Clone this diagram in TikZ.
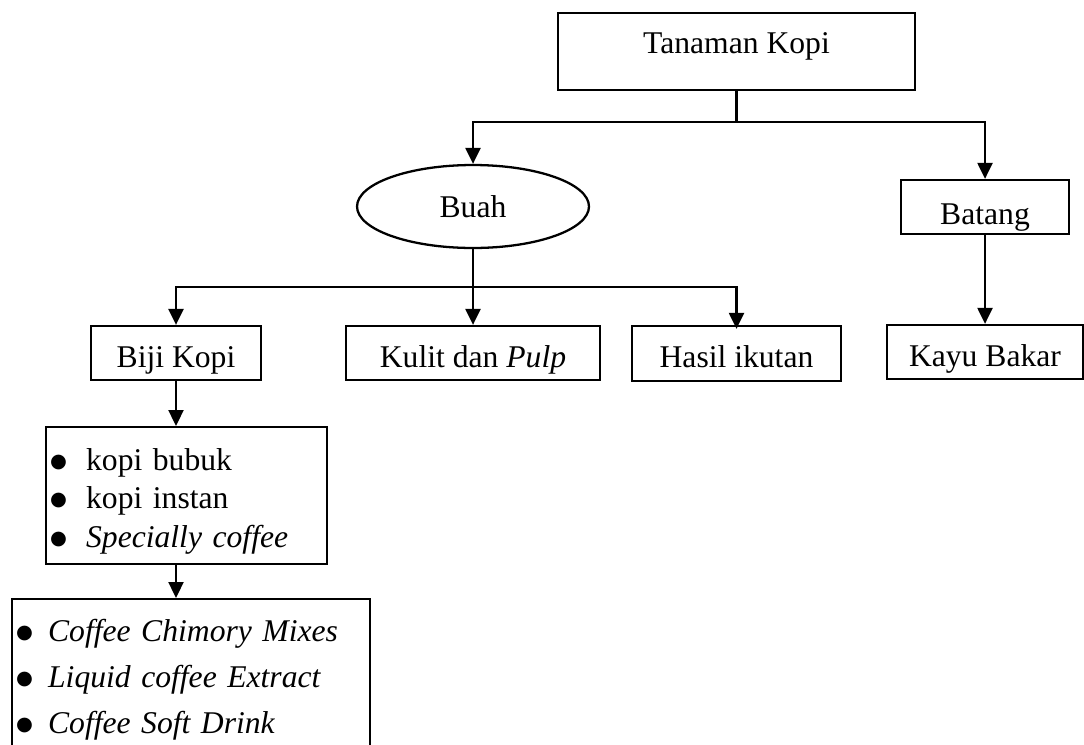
\documentclass[tikz,border=0pt]{standalone}
\usepackage{fontspec}
\setmainfont{Liberation Serif}
\newfontfamily\simbol{DejaVu Sans}
\usepackage{tikz}
\usetikzlibrary{arrows.meta}
\usetikzlibrary{shapes.geometric}
\newcommand{\butir}[1]{\makebox[#1][l]{\raisebox{1.8pt}{\simbol\fontsize{11}{11}\selectfont ●}}}

\begin{document}
\begin{tikzpicture}[x=0.02cm, y=-0.02cm,
		every node/.style={font=\fontsize{18}{22}\selectfont},
		kotak/.style={draw, rectangle, line width=1.3pt, inner sep=0pt},
		baris/.style={kotak, minimum height=1.08cm, text height=16pt, text depth=0pt},
		elips/.style={draw, ellipse, line width=1.3pt, inner sep=0pt},
		daftar/.style={draw, rectangle, line width=1.3pt, anchor=north west, align=left, inner xsep=0.08cm},
		garis/.style={line width=1.3pt},
		panah/.style={line width=1.3pt, -{Triangle[length=0.32cm, width=0.3cm]}}]
		\useasboundingbox (0,0) rectangle (1084,744);

		% top level
		\node (tanaman) at (736.5,51.5) [kotak, minimum width=7.14cm, minimum height=1.54cm, text height=12pt, text depth=10pt] {Tanaman Kopi};
		\node (buah) at (473,206.5) [elips, minimum width=4.64cm, minimum height=1.66cm] {Buah};
		\node (batang) at (985,207) [kotak, minimum width=3.36cm, minimum height=1.08cm, text height=20pt, text depth=0pt] {Batang};

		% second level
		\node (biji) at (176,353) [baris, minimum width=3.4cm] {Biji Kopi};
		\node (kulit) at (473,353) [baris, minimum width=5.08cm] {Kulit dan \textit{Pulp}};
		\node (hasil) at (736.5,353.5) [baris, minimum width=4.18cm, minimum height=1.1cm] {Hasil ikutan};
		\node (kayu) at (985,352) [baris, minimum width=3.92cm] {Kayu Bakar};

		% product lists
		\node (produk) at (45,426) [daftar, minimum height=2.74cm, text width=5.46cm]
			{\rule{0pt}{19pt}\butir{0.72cm}kopi bubuk\\
			 \butir{0.72cm}kopi instan\\
			 \butir{0.72cm}\textit{Specially coffee}};
		\node (olahan) at (11,598) [daftar, inner ysep=0.41cm, text width=7.0cm, font=\fontsize{18}{26}\selectfont]
			{\butir{0.64cm}\textit{Coffee Chimory Mixes}\\
			 \butir{0.64cm}\textit{Liquid coffee Extract}\\
			 \butir{0.64cm}\textit{Coffee Soft Drink}};

		% branch points
		\coordinate (jtop) at (736.5,122);
		\coordinate (jbuah) at (473,287);

		% connectors
		\draw[garis] (tanaman.south) -- (jtop);
		\draw[panah] (jtop) -| (buah.north);
		\draw[panah] (jtop) -| (batang.north);
		\draw[panah] (buah.south) -- (kulit.north);
		\draw[panah] (jbuah) -| (biji.north);
		\draw[panah] (jbuah) -| ([yshift=-0.08cm]hasil.north);
		\draw[panah] (batang.south) -- (kayu.north);
		\draw[panah] (biji.south) -- (biji.south |- produk.north);
		\draw[panah] (biji.south |- produk.south) -- (biji.south |- olahan.north);
	\end{tikzpicture}
\end{document}
